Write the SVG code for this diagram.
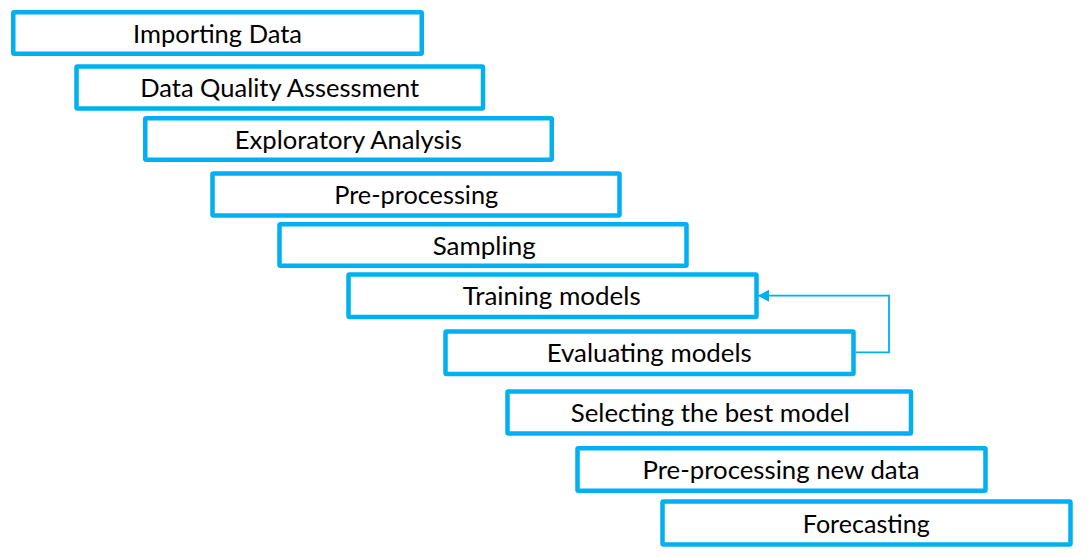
<svg xmlns="http://www.w3.org/2000/svg" width="1089" height="557" viewBox="0 0 1089 557">
<style>
.box{fill:#FFFFFF;stroke:#00B0F0;stroke-width:4.5}
.lbl{font-family:Lato,"Open Sans","Noto Sans",sans-serif;font-size:25px;fill:#000000;text-anchor:middle}
.conn{fill:none;stroke:#00B0F0;stroke-width:1.8}
</style>
<defs>
<marker id="arrow" markerUnits="userSpaceOnUse" markerWidth="12" markerHeight="13" refX="11" refY="6" orient="auto">
<path d="M0,0 L11,6 L0,12 Z" fill="#00B0F0"/>
</marker>
</defs>
<rect width="1089" height="557" fill="#FFFFFF"/>
<g id="connectors">
<polyline class="conn" points="856,352.3 889,352.3 889,295.7 758,295.7" marker-end="url(#arrow)"/>
</g>
<g id="importing-data">
<rect class="box" x="13.25" y="12.25" width="408.5" height="41.5" rx="1"/>
<text class="lbl" x="217.5" y="43" textLength="169" lengthAdjust="spacingAndGlyphs">Importing Data</text>
</g>
<g id="data-quality-assessment">
<rect class="box" x="76.5" y="66.5" width="406.5" height="42" rx="1"/>
<text class="lbl" x="279.7" y="97" textLength="279" lengthAdjust="spacingAndGlyphs">Data Quality Assessment</text>
</g>
<g id="exploratory-analysis">
<rect class="box" x="145.25" y="118.25" width="406.5" height="41.5" rx="1"/>
<text class="lbl" x="348.3" y="149" textLength="227" lengthAdjust="spacingAndGlyphs">Exploratory Analysis</text>
</g>
<g id="pre-processing">
<rect class="box" x="212.5" y="173.5" width="407" height="42" rx="1"/>
<text class="lbl" x="416.2" y="204" textLength="164" lengthAdjust="spacingAndGlyphs">Pre-processing</text>
</g>
<g id="sampling">
<rect class="box" x="279.5" y="224.25" width="407" height="41.5" rx="1"/>
<text class="lbl" x="484.2" y="255" textLength="103" lengthAdjust="spacingAndGlyphs">Sampling</text>
</g>
<g id="training-models">
<rect class="box" x="348.5" y="274.5" width="408" height="42.5" rx="1"/>
<text class="lbl" x="551.7" y="305" textLength="178" lengthAdjust="spacingAndGlyphs">Training models</text>
</g>
<g id="evaluating-models">
<rect class="box" x="445.5" y="331.5" width="408" height="42.5" rx="1"/>
<text class="lbl" x="649.2" y="362" textLength="205" lengthAdjust="spacingAndGlyphs">Evaluating models</text>
</g>
<g id="selecting-best-model">
<rect class="box" x="507.5" y="391.5" width="403.5" height="42" rx="1"/>
<text class="lbl" x="710.3" y="422" textLength="279" lengthAdjust="spacingAndGlyphs">Selecting the best model</text>
</g>
<g id="pre-processing-new-data">
<rect class="box" x="577.5" y="448.25" width="408" height="42.5" rx="1"/>
<text class="lbl" x="781" y="479" textLength="277" lengthAdjust="spacingAndGlyphs">Pre-processing new data</text>
</g>
<g id="forecasting">
<rect class="box" x="662.5" y="501.5" width="408" height="43" rx="1"/>
<text class="lbl" x="866.3" y="532.5" textLength="127" lengthAdjust="spacingAndGlyphs">Forecasting</text>
</g>
</svg>
